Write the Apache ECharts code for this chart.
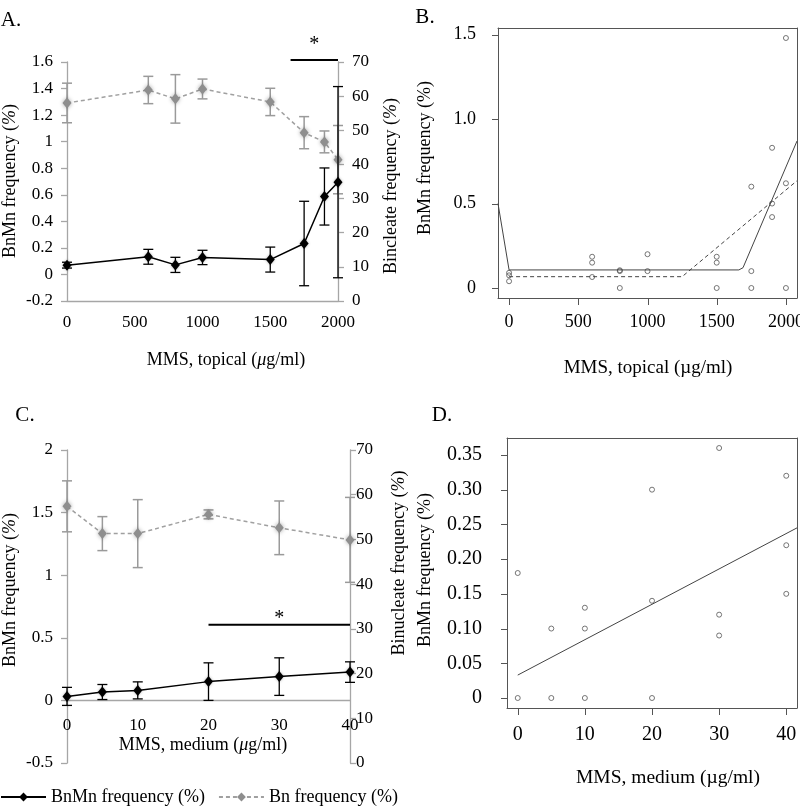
<!DOCTYPE html>
<html>
<head>
<meta charset="utf-8">
<script src="https://cdn.jsdelivr.net/npm/echarts@6/dist/echarts.min.js"></script>
<style>
html,body{margin:0;padding:0;background:#fff;}
#c{width:800px;height:806px;}
</style>
</head>
<body>
<div id="c"></div>
<script>
// ---------- Panel A: MMS topical, means with error bars ----------
const doseA = [0, 600, 800, 1000, 1500, 1750, 1900, 2000];
const bnmnA = [0.07, 0.133, 0.072, 0.128, 0.112, 0.233, 0.587, 0.695];
const bnmnErrA = [0.022, 0.056, 0.057, 0.054, 0.094, 0.318, 0.215, 0.72];
const bnA = [58.0, 61.8, 59.2, 62.1, 58.3, 49.3, 46.6, 41.4];
const bnErrA = [5.8, 4.0, 7.1, 2.9, 4.0, 4.7, 3.2, 10.0];
const sigA = [1650, 2000, 1.615];

// ---------- Panel B: individual values + fits ----------
const doseB = [0,0,0, 600,600,600, 800,800,800, 1000,1000, 1500,1500,1500, 1750,1750,1750, 1900,1900,1900, 2000,2000,2000];
const valB  = [0.09,0.075,0.04, 0.185,0.15,0.065, 0.105,0.1,0, 0.2,0.1, 0.185,0.15,0, 0.6,0.1,0, 0.83,0.5,0.42, 1.48,0.62,0];
const fitSolidBx = [-80, 0, 1660, 1690, 2080];
const fitSolidBy = [0.5, 0.107, 0.107, 0.12, 0.87];
const fitDashBx = [0, 1250, 2080];
const fitDashBy = [0.067, 0.067, 0.635];
const ticksBx = [0, 500, 1000, 1500, 2000];
const ticksBy = [0, 0.5, 1.0, 1.5];
const rangeBx = [-80, 2080], rangeBy = [-0.0592, 1.5392];

// ---------- Panel C: MMS medium, means with error bars ----------
const doseC = [0, 5, 10, 20, 30, 40];
const bnmnC = [0.032, 0.067, 0.08, 0.15, 0.19, 0.226];
const bnmnErrC = [0.072, 0.06, 0.068, 0.15, 0.15, 0.082];
const bnC = [57.4, 51.3, 51.3, 55.6, 52.6, 49.9];
const bnErrC = [5.7, 3.8, 7.6, 1.0, 6.0, 9.5];
const sigC = [20, 40, 30.9];

// ---------- Panel D: individual values + regression ----------
const doseD = [0,0, 5,5, 10,10,10, 20,20,20, 30,30,30, 40,40,40];
const valD  = [0.18,0, 0.10,0, 0.13,0.10,0, 0.30,0.14,0, 0.36,0.12,0.09, 0.32,0.22,0.15];
const fitDx = [0, 41.6];
const fitDy = [0.033, 0.245];
const ticksDx = [0, 10, 20, 30, 40];
const ticksDy = [0, 0.05, 0.10, 0.15, 0.20, 0.25, 0.30, 0.35];
const rangeDx = [-1.6, 41.6], rangeDy = [-0.0144, 0.3744];

const FONT = '"Liberation Serif", "Times New Roman", serif';
const AX = '#a6a6a6';
const RBOX = '#555';

const W = 800, H = 806;
const gB = { left: 498, right: 3, top: 28, bottom: 508 };
const gD = { left: 507, right: 3, top: 438, bottom: 98 };
const gridCTop = 450, gridCBottom = 43, cMin = -0.5, cMax = 2;
const gridCHeight = H - gridCTop - gridCBottom;
const cZeroOffset = -((0 - cMin) / (cMax - cMin)) * gridCHeight;

const zip = (a, b) => a.map((v, i) => [v, b[i]]);
const errData = (x, m, e) => x.map((v, i) => [v, m[i] - e[i], m[i] + e[i]]);

function errRender(color, w, lw) {
  return function (params, api) {
    const x = api.value(0), lo = api.value(1), hi = api.value(2);
    const p1 = api.coord([x, lo]), p2 = api.coord([x, hi]);
    const st = { stroke: color, lineWidth: lw };
    return { type: 'group', children: [
      { type: 'line', shape: { x1: p1[0], y1: p1[1], x2: p2[0], y2: p2[1] }, style: st },
      { type: 'line', shape: { x1: p1[0] - w, y1: p1[1], x2: p1[0] + w, y2: p1[1] }, style: st },
      { type: 'line', shape: { x1: p2[0] - w, y1: p2[1], x2: p2[0] + w, y2: p2[1] }, style: st }
    ]};
  };
}
function sigRender(starGap) {
  return function (params, api) {
    const a = api.coord([api.value(0), api.value(2)]);
    const b = api.coord([api.value(1), api.value(2)]);
    return { type: 'group', children: [
      { type: 'line', shape: { x1: a[0], y1: a[1], x2: b[0], y2: b[1] }, style: { stroke: '#000', lineWidth: 2 } },
      { type: 'text', style: { text: '*', x: (a[0] + b[0]) / 2, y: a[1] - starGap, fontSize: 20, fontFamily: FONT, fill: '#000', align: 'center', verticalAlign: 'middle' } }
    ]};
  };
}

function excelY(min, max, interval, pos, margin, idx) {
  return {
    type: 'value', gridIndex: idx, min: min, max: max, interval: interval, position: pos,
    axisLine: { show: true, onZero: false, lineStyle: { color: AX, width: 1.3 } },
    axisTick: { show: true, inside: false, length: 6, lineStyle: { color: AX, width: 1.3 } },
    axisLabel: { color: '#000', fontSize: 17, fontFamily: FONT, margin: margin },
    splitLine: { show: false }
  };
}
function rY(range, vals, idx, fs, margin, digits) {
  return {
    type: 'value', gridIndex: idx, min: range[0], max: range[1], position: 'left',
    axisLine: { show: true, onZero: false, lineStyle: { color: RBOX, width: 1 } },
    axisTick: { show: false },
    axisLabel: { customValues: vals, color: '#000', fontSize: fs, fontFamily: FONT, margin: margin,
      formatter: v => (Math.abs(v) < 1e-9 ? '0' : v.toFixed(digits)) },
    splitLine: { show: false }
  };
}
function rX(range, vals, idx, fs, margin) {
  return {
    type: 'value', gridIndex: idx, min: range[0], max: range[1], position: 'bottom',
    axisLine: { show: true, onZero: false, lineStyle: { color: RBOX, width: 1 } },
    axisTick: { show: false },
    axisLabel: { customValues: vals, color: '#000', fontSize: fs, fontFamily: FONT, margin: margin,
      formatter: v => String(v) },
    splitLine: { show: false }
  };
}
function boxSide(range, idx, pos) {
  return {
    type: 'value', gridIndex: idx, min: range[0], max: range[1], position: pos,
    axisLine: { show: true, onZero: false, lineStyle: { color: RBOX, width: 1 } },
    axisTick: { show: false }, axisLabel: { show: false }, splitLine: { show: false }
  };
}

// R-style outward tick marks as graphic lines, mapped with the same linear scale as the box axes
function rTickGraphics(g, rx, ry, xVals, yVals) {
  const plotW = W - g.left - g.right, plotH = H - g.top - g.bottom;
  const bottom = H - g.bottom;
  const els = [];
  xVals.forEach(v => {
    const px = Math.round(g.left + (v - rx[0]) / (rx[1] - rx[0]) * plotW) + 0.5;
    els.push({ type: 'line', z: 100, shape: { x1: px, y1: bottom, x2: px, y2: bottom + 7 }, style: { stroke: RBOX, lineWidth: 1 } });
  });
  yVals.forEach(v => {
    const py = Math.round(bottom - (v - ry[0]) / (ry[1] - ry[0]) * plotH) + 0.5;
    els.push({ type: 'line', z: 100, shape: { x1: g.left - 6, y1: py, x2: g.left, y2: py }, style: { stroke: RBOX, lineWidth: 1 } });
  });
  return els;
}

const blackLine = (name, x, y, xi, yi) => ({
  type: 'line', name: name, xAxisIndex: xi, yAxisIndex: yi, data: zip(x, y),
  symbol: 'diamond', symbolSize: [9, 11],
  lineStyle: { color: '#000', width: 1.5 }, itemStyle: { color: '#000', shadowBlur: 3, shadowColor: 'rgba(0,0,0,0.3)' },
  z: 5
});
const grayLine = (name, x, y, xi, yi) => ({
  type: 'line', name: name, xAxisIndex: xi, yAxisIndex: yi, data: zip(x, y),
  symbol: 'diamond', symbolSize: [9, 11],
  lineStyle: { color: '#a0a0a0', width: 1.5, type: [4, 3] },
  itemStyle: { color: '#8e8e8e', shadowBlur: 4, shadowColor: 'rgba(0,0,0,0.35)' },
  z: 4
});

const titleText = (x, y, text, size, rot, rich) => ({
  type: 'text', x: x, y: y, rotation: rot ? Math.PI / 2 : 0,
  style: { text: text, fontSize: size, fontFamily: FONT, fill: '#000', align: 'center', verticalAlign: 'middle',
    rich: rich ? { i: { fontStyle: 'italic', fontSize: size, fontFamily: FONT } } : undefined }
});

const titles = [
  titleText(11, 20, 'A.', 21, false),
  titleText(425, 17, 'B.', 21, false),
  titleText(25, 415, 'C.', 21, false),
  titleText(442, 415, 'D.', 21, false),
  titleText(10, 181, 'BnMn frequency ({i|%})', 18, true, true),
  titleText(391, 186, 'Bincleate frequency ({i|%})', 18, true, true),
  titleText(226, 360, 'MMS, topical ({i|μ}g/ml)', 18, false, true),
  titleText(425, 158, 'BnMn frequency (%)', 18, true),
  titleText(648, 368, 'MMS, topical (µg/ml)', 19, false),
  titleText(10, 590, 'BnMn frequency ({i|%})', 18, true, true),
  titleText(399, 563, 'Binucleate frequency ({i|%})', 18, true, true),
  titleText(203, 745, 'MMS, medium ({i|μ}g/ml)', 18, false, true),
  titleText(425, 570, 'BnMn frequency (%)', 18, true),
  titleText(668, 778, 'MMS, medium (µg/ml)', 19.5, false)
];

const option = {
  animation: false,
  backgroundColor: '#fff',
  grid: [
    { left: 67, right: 462, top: 62, bottom: 505, outerBoundsMode: 'none', containLabel: false },
    Object.assign({ outerBoundsMode: 'none', containLabel: false }, gB),
    { left: 67, right: 450, top: gridCTop, bottom: gridCBottom, outerBoundsMode: 'none', containLabel: false },
    Object.assign({ outerBoundsMode: 'none', containLabel: false }, gD)
  ],
  xAxis: [
    { type: 'value', gridIndex: 0, min: 0, max: 2000, interval: 500,
      axisLine: { show: true, onZero: false, lineStyle: { color: AX, width: 1.3 } }, axisTick: { show: false },
      axisLabel: { color: '#000', fontSize: 17, fontFamily: FONT, margin: 13, formatter: v => String(v) }, splitLine: { show: false } },
    rX(rangeBx, ticksBx, 1, 18, 15),
    { type: 'value', gridIndex: 2, min: 0, max: 40, interval: 10, offset: cZeroOffset,
      axisLine: { show: true, onZero: false, lineStyle: { color: AX, width: 1.3 } }, axisTick: { show: false },
      axisLabel: { color: '#000', fontSize: 17, fontFamily: FONT, margin: 17, formatter: v => String(v) }, splitLine: { show: false } },
    rX(rangeDx, ticksDx, 3, 20, 17),
    boxSide(rangeBx, 1, 'top'),
    boxSide(rangeDx, 3, 'top')
  ],
  yAxis: [
    excelY(-0.2, 1.6, 0.2, 'left', 14, 0),
    excelY(0, 70, 10, 'right', 14, 0),
    rY(rangeBy, ticksBy, 1, 18, 22, 1),
    excelY(cMin, cMax, 0.5, 'left', 14, 2),
    excelY(0, 70, 10, 'right', 6, 2),
    rY(rangeDy, ticksDy, 3, 20, 25, 2),
    boxSide(rangeBy, 1, 'right'),
    boxSide(rangeDy, 3, 'right')
  ],
  legend: {
    left: 0, top: 788, padding: 0, itemWidth: 45, itemHeight: 11, itemGap: 13,
    textStyle: { fontSize: 18, fontFamily: FONT, color: '#000' },
    data: ['BnMn frequency (%)', 'Bn frequency (%)']
  },
  series: [
    // Panel A
    { type: 'custom', xAxisIndex: 0, yAxisIndex: 1, data: errData(doseA, bnA, bnErrA),
      encode: { x: 0, y: [1, 2] }, renderItem: errRender('#9a9a9a', 5, 1.5), z: 3 },
    grayLine('Bn frequency (%)', doseA, bnA, 0, 1),
    { type: 'custom', xAxisIndex: 0, yAxisIndex: 0, data: errData(doseA, bnmnA, bnmnErrA),
      encode: { x: 0, y: [1, 2] }, renderItem: errRender('#000', 5, 1.3), z: 5 },
    blackLine('BnMn frequency (%)', doseA, bnmnA, 0, 0),
    { type: 'custom', xAxisIndex: 0, yAxisIndex: 0, data: [sigA], encode: { x: [0, 1], y: 2 }, renderItem: sigRender(15), z: 6 },
    // Panel B
    { type: 'scatter', name: 'B points', xAxisIndex: 1, yAxisIndex: 2, data: zip(doseB, valB),
      symbol: 'circle', symbolSize: 5, itemStyle: { color: 'rgba(0,0,0,0)', borderColor: '#555', borderWidth: 1 } },
    { type: 'line', name: 'B fit solid', xAxisIndex: 1, yAxisIndex: 2, data: zip(fitSolidBx, fitSolidBy), symbol: 'none',
      lineStyle: { color: '#444', width: 1 } },
    { type: 'line', name: 'B fit dashed', xAxisIndex: 1, yAxisIndex: 2, data: zip(fitDashBx, fitDashBy), symbol: 'none',
      lineStyle: { color: '#444', width: 1, type: [4, 3] } },
    // Panel C
    { type: 'custom', xAxisIndex: 2, yAxisIndex: 4, data: errData(doseC, bnC, bnErrC),
      encode: { x: 0, y: [1, 2] }, renderItem: errRender('#9a9a9a', 5, 1.5), z: 3 },
    grayLine('Bn frequency (%)', doseC, bnC, 2, 4),
    { type: 'custom', xAxisIndex: 2, yAxisIndex: 3, data: errData(doseC, bnmnC, bnmnErrC),
      encode: { x: 0, y: [1, 2] }, renderItem: errRender('#000', 5, 1.3), z: 5 },
    blackLine('BnMn frequency (%)', doseC, bnmnC, 2, 3),
    { type: 'custom', xAxisIndex: 2, yAxisIndex: 4, data: [sigC], encode: { x: [0, 1], y: 2 }, renderItem: sigRender(6), z: 6 },
    // Panel D
    { type: 'scatter', name: 'D points', xAxisIndex: 3, yAxisIndex: 5, data: zip(doseD, valD),
      symbol: 'circle', symbolSize: 5, itemStyle: { color: 'rgba(0,0,0,0)', borderColor: '#555', borderWidth: 1 } },
    { type: 'line', name: 'D fit', xAxisIndex: 3, yAxisIndex: 5, data: zip(fitDx, fitDy), symbol: 'none',
      lineStyle: { color: '#444', width: 1 } }
  ],
  graphic: titles
    .concat(rTickGraphics(gB, rangeBx, rangeBy, ticksBx, ticksBy))
    .concat(rTickGraphics(gD, rangeDx, rangeDy, ticksDx, ticksDy))
};

const chart = echarts.init(document.getElementById('c'), null, { renderer: 'canvas' });
chart.setOption(option);
</script>
</body>
</html>
